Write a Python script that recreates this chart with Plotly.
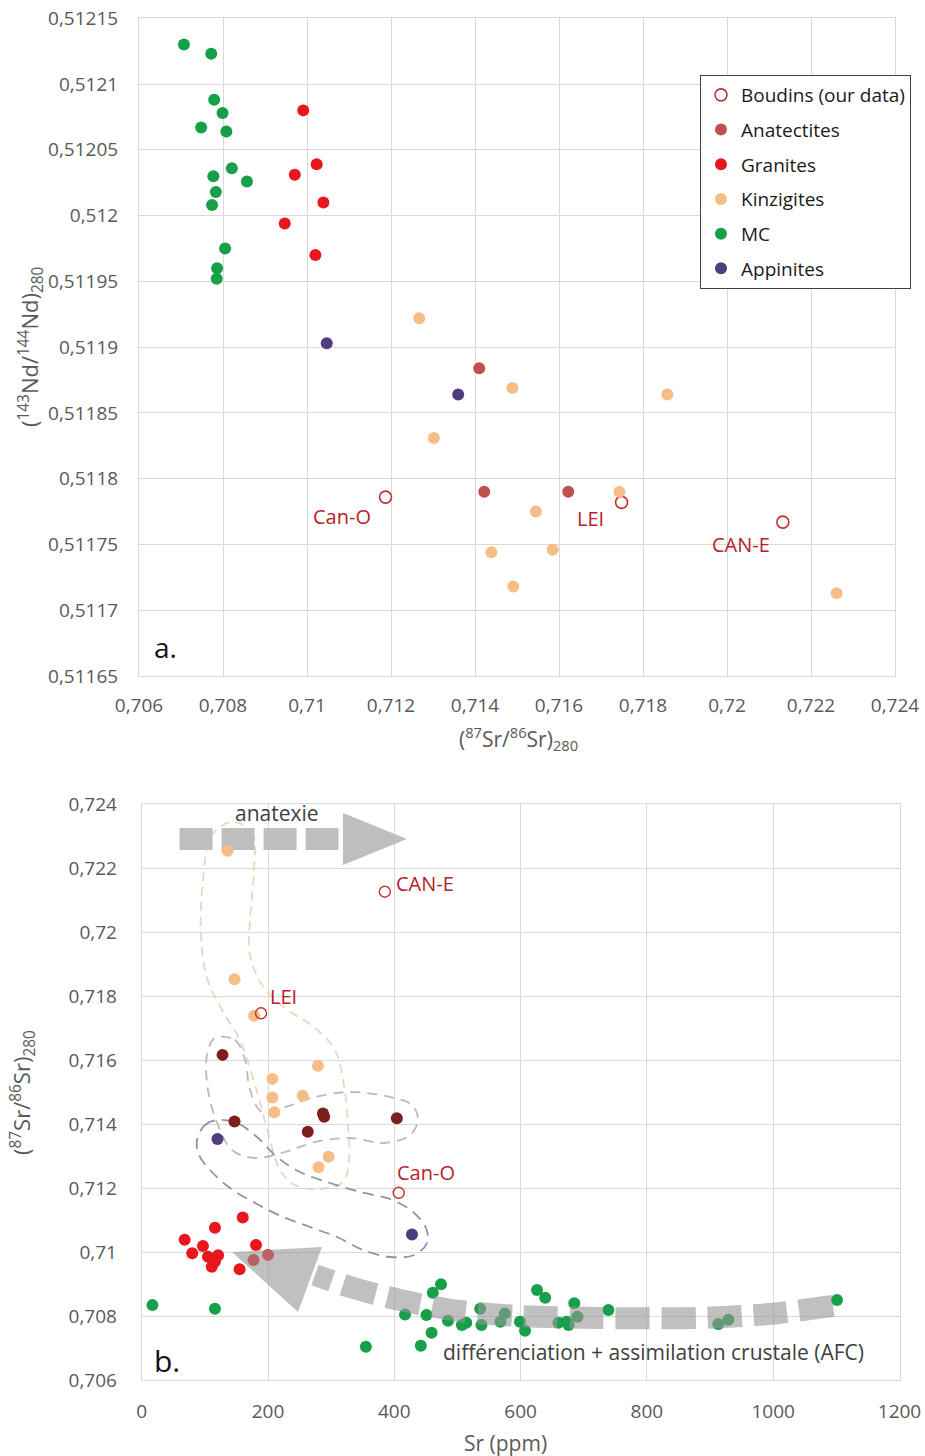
import plotly.graph_objects as go
import numpy as np

# ---------------- Panel a : (87Sr/86Sr)280 vs (143Nd/144Nd)280 ----------------
boudins_sr = [0.71187, 0.71749, 0.72133]
boudins_nd = [0.511786, 0.511782, 0.511767]
boudins_names = ["Can-O", "LEI", "CAN-E"]
anat_sr = [0.71410, 0.71422, 0.71622]
anat_nd = [0.511884, 0.511790, 0.511790]
gran_sr = [0.70991, 0.71023, 0.70971, 0.71039, 0.70947, 0.71020]
gran_nd = [0.512080, 0.512039, 0.512031, 0.512010, 0.511994, 0.511970]
kinz_sr = [0.71267, 0.71489, 0.71302, 0.71744, 0.71545, 0.71439, 0.71585, 0.71491, 0.71858, 0.72261]
kinz_nd = [0.511922, 0.511869, 0.511831, 0.511790, 0.511775, 0.511744, 0.511746, 0.511718, 0.511864, 0.511713]
mc_sr = [0.70707, 0.70772, 0.70779, 0.70799, 0.70748, 0.70808, 0.70821, 0.70777, 0.70857,
         0.70783, 0.70774, 0.70805, 0.70786, 0.70785]
mc_nd = [0.512130, 0.512123, 0.512088, 0.512078, 0.512067, 0.512064, 0.512036, 0.512030, 0.512026,
         0.512018, 0.512008, 0.511975, 0.511960, 0.511952]
app_sr = [0.71047, 0.71360]
app_nd = [0.511903, 0.511864]

a_xticks = [0.706, 0.708, 0.710, 0.712, 0.714, 0.716, 0.718, 0.720, 0.722, 0.724]
a_xlabels = ["0,706", "0,708", "0,71", "0,712", "0,714", "0,716", "0,718", "0,72", "0,722", "0,724"]
a_yticks = [0.51165, 0.5117, 0.51175, 0.5118, 0.51185, 0.5119, 0.51195, 0.512, 0.51205, 0.5121, 0.51215]
a_ylabels = ["0,51165", "0,5117", "0,51175", "0,5118", "0,51185", "0,5119", "0,51195", "0,512",
             "0,51205", "0,5121", "0,51215"]

# ---------------- Panel b : Sr (ppm) vs (87Sr/86Sr)280 ----------------
b_boudins_ppm = [407, 189, 385]
b_boudins_sr = [0.71185, 0.71746, 0.72126]
b_anat_ppm = [128, 147, 263, 287, 289, 404]
b_anat_sr = [0.71616, 0.71408, 0.71376, 0.71433, 0.71423, 0.71418]
b_gran_ppm = [160, 116, 68, 181, 97, 80, 105, 121, 116, 111, 155, 177, 200]
b_gran_sr = [0.71108, 0.71076, 0.71038, 0.71022, 0.71019, 0.70996, 0.70985, 0.70990, 0.70970,
             0.70954, 0.70946, 0.70975, 0.70991]
b_kinz_ppm = [136, 147, 178, 279, 207, 207, 255, 210, 296, 280]
b_kinz_sr = [0.72254, 0.71852, 0.71738, 0.71582, 0.71541, 0.71483, 0.71488, 0.71437, 0.71298, 0.71265]
b_mc_ppm = [17, 116, 355, 442, 459, 417, 451, 461, 474, 485, 507, 514, 536, 538, 568, 575, 599,
            607, 626, 639, 660, 673, 676, 685, 690, 739, 913, 929, 1101]
b_mc_sr = [0.70834, 0.70823, 0.70704, 0.70707, 0.70748, 0.70805, 0.70803, 0.70873, 0.70899, 0.70785,
           0.70772, 0.70779, 0.70823, 0.70772, 0.70782, 0.70808, 0.70782, 0.70754, 0.70881, 0.70857,
           0.70779, 0.70782, 0.70772, 0.70840, 0.70798, 0.70819, 0.70775, 0.70788, 0.70850]
b_app_ppm = [120, 428]
b_app_sr = [0.71353, 0.71055]

b_xticks = [0, 200, 400, 600, 800, 1000, 1200]
b_yticks = [0.706, 0.708, 0.710, 0.712, 0.714, 0.716, 0.718, 0.720, 0.722, 0.724]
b_ylabels = ["0,706", "0,708", "0,71", "0,712", "0,714", "0,716", "0,718", "0,72", "0,722", "0,724"]

# ---------------- Decorative outlines / arrows (data units of panel b) ----------------
kinz_outline_ppm = [143, 174.7, 177.8, 171.5, 171.5, 190.5, 226.9, 274.4, 306.1, 320.3, 326.7, 328.3,
                    318.8, 282.3, 242.7, 219, 203.2, 190.5, 174.7, 155.7, 127.2, 103.4, 93.9, 97.1, 111.3, 143]
kinz_outline_sr = [0.723438, 0.723125, 0.721938, 0.720375, 0.719281, 0.718344, 0.717625, 0.717, 0.716313,
                   0.715219, 0.713969, 0.712875, 0.712188, 0.711969, 0.712094, 0.712563, 0.7135, 0.714438,
                   0.715531, 0.716625, 0.717563, 0.718563, 0.719906, 0.721625, 0.723031, 0.723438]
anat_outline_ppm = [116.1, 147.7, 163.6, 171.5, 190.5, 226.9, 274.4, 329.8, 393.2, 428, 437.5, 424.9,
                    385.3, 329.8, 274.4, 226.9, 179.4, 143, 120.8, 105, 103.4, 116.1]
anat_outline_sr = [0.716688, 0.716625, 0.716, 0.715063, 0.714375, 0.714531, 0.714844, 0.715, 0.714844,
                   0.714594, 0.714125, 0.713656, 0.713406, 0.713563, 0.713438, 0.713125, 0.712938,
                   0.713188, 0.713969, 0.715063, 0.716156, 0.716688]
app_outline_ppm = [87.6, 100.2, 120.8, 150.9, 182.6, 214.2, 250.7, 298.2, 345.7, 393.2, 429.6, 450.2,
                   451.8, 431.2, 393.2, 350.4, 309.3, 266.5, 223.7, 182.6, 139.8, 108.2, 90.7, 87.6]
app_outline_sr = [0.7135, 0.713969, 0.714125, 0.714031, 0.713594, 0.712969, 0.7125, 0.712156, 0.711875,
                  0.711656, 0.71125, 0.71075, 0.710281, 0.709906, 0.709844, 0.710063, 0.710469, 0.710781,
                  0.711094, 0.7115, 0.712, 0.712563, 0.713031, 0.7135]
afc_band_ppm = [1094.7, 994.9, 884.1, 725.7, 599, 504, 409, 329.8, 274.4]
afc_band_sr = [0.708313, 0.708063, 0.707938, 0.707938, 0.708, 0.708156, 0.7085, 0.708906, 0.709281]
afc_head_ppm = [143, 285.5, 247.5]
afc_head_sr = [0.71, 0.710156, 0.708125]
anx_band_ppm = [60, 317]
anx_band_sr = [0.722906, 0.722906]
anx_head_ppm = [318.8, 420, 318.8]
anx_head_sr = [0.723719, 0.722906, 0.722094]

C_MC = "#17A04A"
C_GRAN = "#E8171D"
C_KINZ = "#F6BD87"
C_APP = "#4F3D7F"
C_ANAT_A = "#C0504D"
C_ANAT_B = "#7E1F1F"
C_BOUD = "#C2302F"
TXT = "#595959"
FONT = "Open Sans"

fig = go.Figure()

# ---- panel a traces ----
def add_a(x, y, name, color, symbol="circle", size=12, lw=0):
    fig.add_trace(go.Scatter(
        x=x, y=y, mode="markers", name=name, legendgroup=name,
        marker=dict(color=color, size=size, symbol=symbol,
                    line=dict(width=lw, color=color)),
        xaxis="x", yaxis="y", showlegend=True))

add_a(boudins_sr, boudins_nd, "Boudins (our data)", C_BOUD, symbol="circle-open", size=12, lw=1.6)
add_a(anat_sr, anat_nd, "Anatectites", C_ANAT_A)
add_a(gran_sr, gran_nd, "Granites", C_GRAN)
add_a(kinz_sr, kinz_nd, "Kinzigites", C_KINZ)
add_a(mc_sr, mc_nd, "MC", C_MC)
add_a(app_sr, app_nd, "Appinites", C_APP)

# ---- panel b: outlines and anatexie band (below points) ----
def add_line(x, y, color, width, dash, shape="spline", smoothing=1.0):
    fig.add_trace(go.Scatter(
        x=x, y=y, mode="lines", xaxis="x2", yaxis="y2", showlegend=False, hoverinfo="skip",
        line=dict(color=color, width=width, dash=dash, shape=shape, smoothing=smoothing)))

add_line(kinz_outline_ppm, kinz_outline_sr, "rgba(238,196,165,0.75)", 1.8, "9px,6px")
add_line(anat_outline_ppm, anat_outline_sr, "rgba(170,160,165,0.75)", 1.8, "10px,7px")
add_line(app_outline_ppm, app_outline_sr, "rgba(130,135,155,0.9)", 1.8, "11px,7px")
add_line(anx_band_ppm, anx_band_sr, "#BEBEBE", 22, "33px,9px", shape="linear")

def add_b(x, y, color, symbol="circle", size=12, lw=0):
    fig.add_trace(go.Scatter(
        x=x, y=y, mode="markers", xaxis="x2", yaxis="y2", showlegend=False,
        marker=dict(color=color, size=size, symbol=symbol, line=dict(width=lw, color=color))))

add_b(b_kinz_ppm, b_kinz_sr, C_KINZ)
add_b(b_anat_ppm, b_anat_sr, C_ANAT_B)
add_b(b_gran_ppm, b_gran_sr, C_GRAN)
add_b(b_mc_ppm, b_mc_sr, C_MC)
add_b(b_app_ppm, b_app_sr, C_APP)
add_b(b_boudins_ppm, b_boudins_sr, C_BOUD, symbol="circle-open", size=11, lw=1.4)

# AFC dashed band above points (translucent)
add_line(afc_band_ppm, afc_band_sr, "rgba(150,150,150,0.6)", 22, "34px,12px", smoothing=0.8)

shapes = []
def tri(xs, ys, color):
    p = "M {} {} L {} {} L {} {} Z".format(xs[0], ys[0], xs[1], ys[1], xs[2], ys[2])
    shapes.append(dict(type="path", path=p, xref="x2", yref="y2", fillcolor=color,
                       line=dict(width=0), layer="above"))
tri(afc_head_ppm, afc_head_sr, "rgba(150,150,150,0.6)")
tri(anx_head_ppm, anx_head_sr, "#BEBEBE")

ann = []
def note(**kw):
    kw.setdefault("xanchor", "center")
    kw.setdefault("yanchor", "middle")
    kw.setdefault("showarrow", False)
    ann.append(kw)

# boudin labels, panel a
a_lab_x = [0.71083, 0.71676, 0.72033]
a_lab_y = [0.511771, 0.51177, 0.51175]
for n, x, y in zip(boudins_names, a_lab_x, a_lab_y):
    note(x=x, y=y, xref="x", yref="y", text=n, font=dict(family=FONT, size=20, color="#B5222A"))
# boudin labels, panel b
b_lab_x = [450, 225, 449]
b_lab_y = [0.712469, 0.717969, 0.721531]
for n, x, y in zip(boudins_names, b_lab_x, b_lab_y):
    note(x=x, y=y, xref="x2", yref="y2", text=n, font=dict(family=FONT, size=20, color="#B5222A"))

note(x=0.70662, y=0.511672, xref="x", yref="y", text="a.", font=dict(family=FONT, size=28, color="#111111"))
note(x=40, y=0.706625, xref="x2", yref="y2", text="b.", font=dict(family=FONT, size=30, color="#111111"))
note(x=214, y=0.723719, xref="x2", yref="y2", text="anatexie", font=dict(family=FONT, size=21, color="#404040"))
note(x=810, y=0.706875, xref="x2", yref="y2", text="différenciation + assimilation crustale (AFC)",
     font=dict(family=FONT, size=21, color="#404040"))

# axis titles
note(x=30 / 925, y=1 - 347 / 1456, xref="paper", yref="paper", textangle=-90,
     text="(<sup>143</sup>Nd/<sup>144</sup>Nd)<sub>280</sub>", font=dict(family=FONT, size=22, color=TXT))
note(x=518 / 925, y=1 - 738 / 1456, xref="paper", yref="paper",
     text="(<sup>87</sup>Sr/<sup>86</sup>Sr)<sub>280</sub>", font=dict(family=FONT, size=21, color=TXT))
note(x=22 / 925, y=1 - 1093 / 1456, xref="paper", yref="paper", textangle=-90,
     text="(<sup>87</sup>Sr/<sup>86</sup>Sr)<sub>280</sub>", font=dict(family=FONT, size=22, color=TXT))
note(x=505 / 925, y=1 - 1443 / 1456, xref="paper", yref="paper",
     text="Sr (ppm)", font=dict(family=FONT, size=21, color=TXT))

axis_common = dict(showgrid=True, gridcolor="#D9D9D9", gridwidth=1, showline=True,
                   linecolor="#D9D9D9", linewidth=1, mirror=True, zeroline=False,
                   ticks="outside", tickcolor="rgba(0,0,0,0)", automargin=False,
                   tickfont=dict(family=FONT, size=19, color=TXT))

fig.update_layout(
    width=925, height=1456, margin=dict(l=0, r=0, t=0, b=0, autoexpand=False),
    paper_bgcolor="white", plot_bgcolor="white",
    xaxis=dict(domain=[139 / 925, 895 / 925], range=[0.706, 0.724], tickmode="array",
               tickvals=a_xticks, ticktext=a_xlabels, anchor="y", ticklen=12, **axis_common),
    yaxis=dict(domain=[1 - 676 / 1456, 1 - 18.3 / 1456], range=[0.51165, 0.51215], tickmode="array",
               tickvals=a_yticks, ticktext=a_ylabels, anchor="x", ticklen=16, **axis_common),
    xaxis2=dict(domain=[141.7 / 925, 899.5 / 925], range=[0, 1200], tickmode="array",
                tickvals=b_xticks, ticktext=[str(v) for v in b_xticks], anchor="y2", ticklen=14,
                **axis_common),
    yaxis2=dict(domain=[1 - 1380 / 1456, 1 - 804 / 1456], range=[0.706, 0.724], tickmode="array",
                tickvals=b_yticks, ticktext=b_ylabels, anchor="x2", ticklen=20, **axis_common),
    legend=dict(x=700 / 925, y=1 - 75 / 1456, xanchor="left", yanchor="top",
                bgcolor="white", bordercolor="#404040", borderwidth=1,
                font=dict(family=FONT, size=19, color="#1A1A1A"),
                tracegroupgap=7, itemwidth=30),
    shapes=shapes, annotations=ann, showlegend=True,
)

fig.write_html("out.html", config={"displayModeBar": False},
               post_script="document.body.style.margin='0px';document.body.style.overflow='hidden';")
